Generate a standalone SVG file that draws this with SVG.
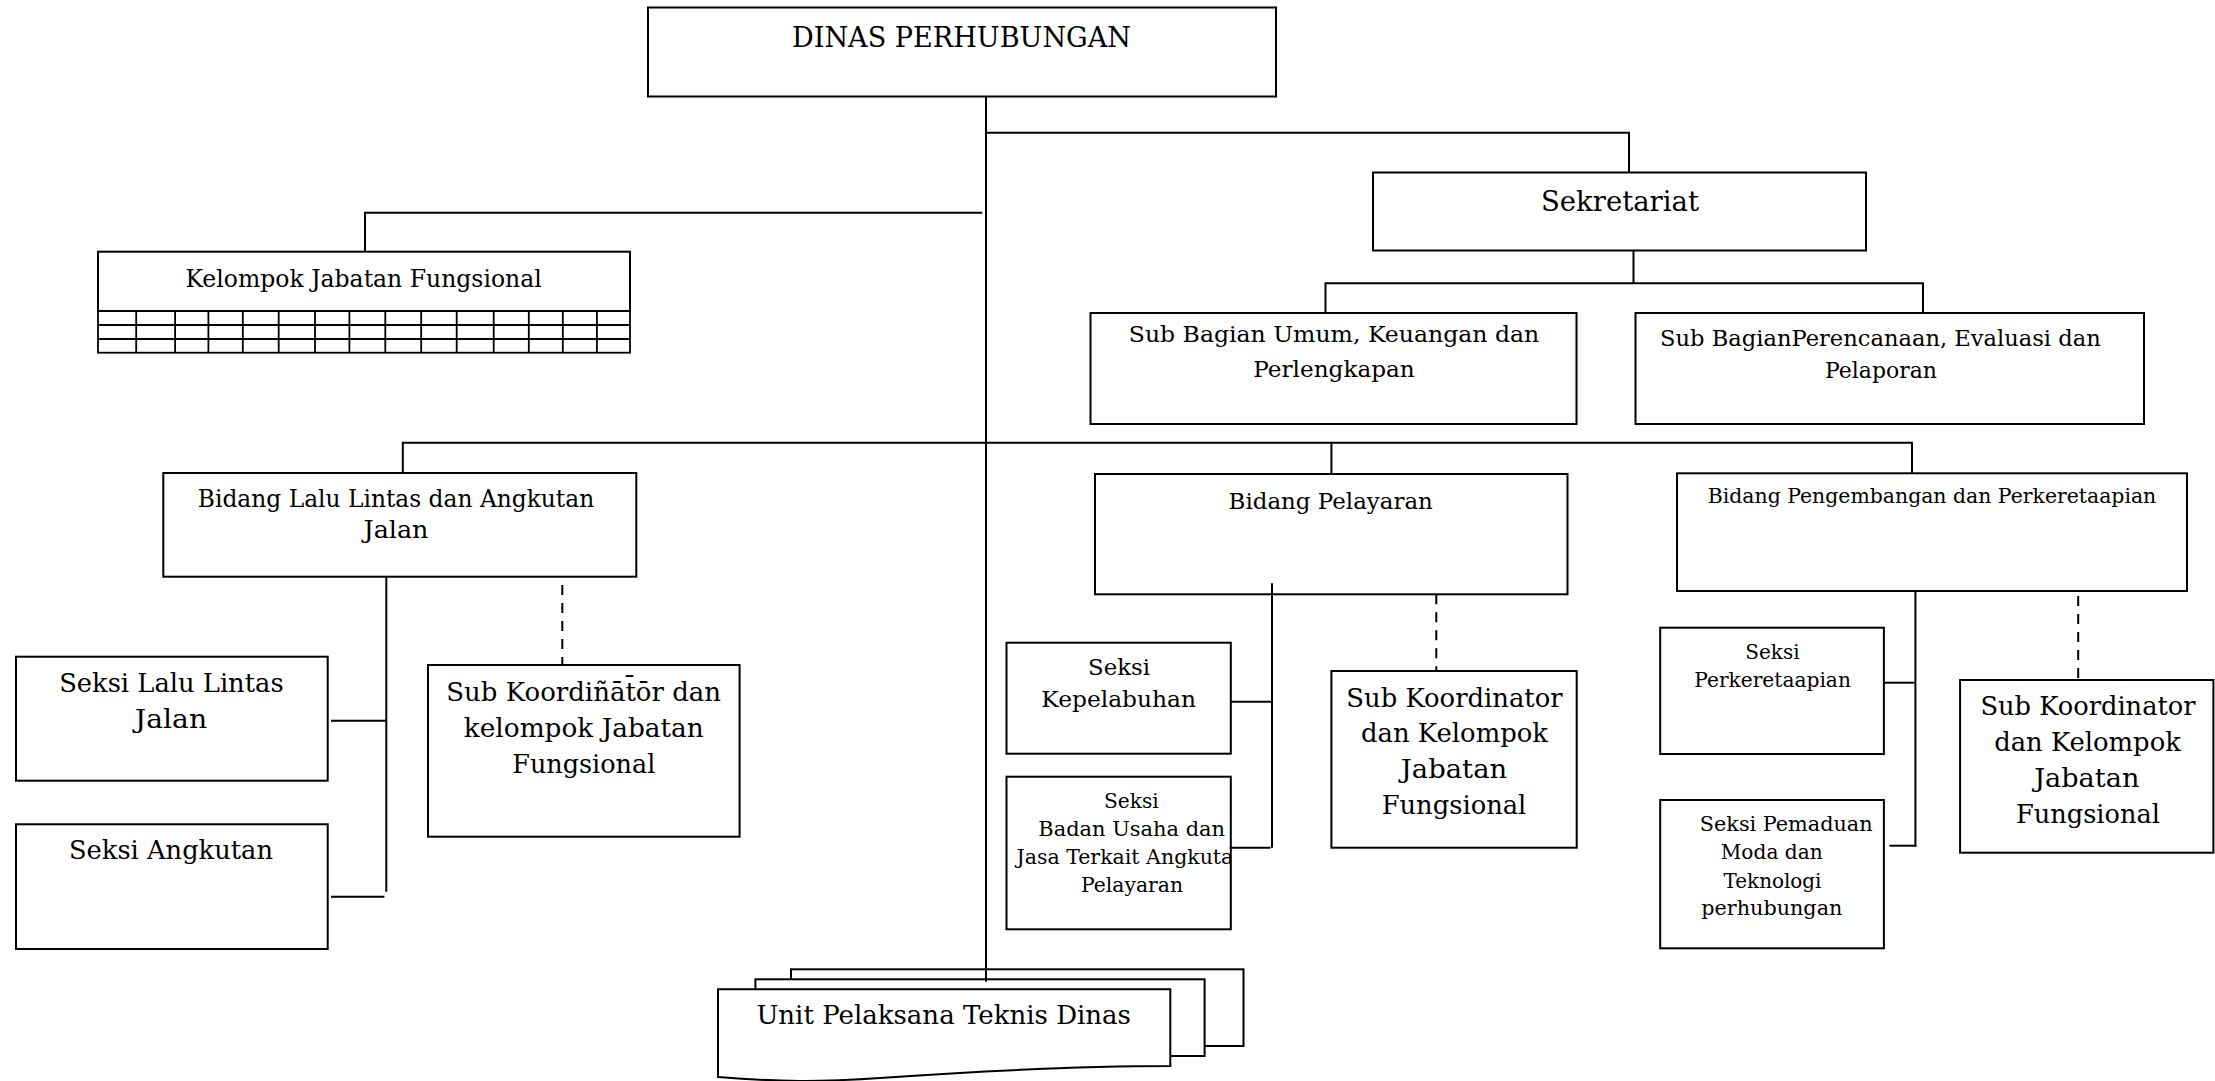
<svg xmlns="http://www.w3.org/2000/svg" width="2215" height="1081" viewBox="0 0 2215 1081">
  <style>
    .box { fill: #fff; stroke: #000; stroke-width: 2; }
    .ln { fill: none; stroke: #000; stroke-width: 2; }
    .dash { stroke-dasharray: 10 8; }
    .grid { fill: none; stroke: #000; stroke-width: 1.8; }
    text { font-family: "DejaVu Serif", "Liberation Serif", serif; fill: #000; text-anchor: middle; }
  </style>
  <defs>
    <clipPath id="clip-badan-usaha">
      <rect x="1007" y="777" width="223" height="152"/>
    </clipPath>
  </defs>

  <rect width="2215" height="1081" fill="#fff"/>

  <!-- Head of office -->
  <g id="dinas">
    <rect class="box" x="648" y="7.5" width="628" height="89"/>
    <text x="961.5" y="46.7" font-size="27.5" textLength="339" lengthAdjust="spacingAndGlyphs">DINAS PERHUBUNGAN</text>
  </g>

  <!-- Secretariat and its sub-sections -->
  <g id="sekretariat">
    <rect class="box" x="1373" y="172.5" width="493" height="78"/>
    <text x="1620" y="211" font-size="27.5" textLength="158" lengthAdjust="spacingAndGlyphs">Sekretariat</text>
  </g>
  <g id="subbag-umum">
    <rect class="box" x="1090.5" y="313" width="486" height="111"/>
    <text x="1334" y="341.7" font-size="23" textLength="410.5" lengthAdjust="spacingAndGlyphs">Sub Bagian Umum, Keuangan dan</text>
    <text x="1334" y="376.7" font-size="23" textLength="161.6" lengthAdjust="spacingAndGlyphs">Perlengkapan</text>
  </g>
  <g id="subbag-perencanaan">
    <rect class="box" x="1635.5" y="313" width="508.5" height="111"/>
    <text x="1880.4" y="346" font-size="22.2" textLength="440.7" lengthAdjust="spacingAndGlyphs">Sub BagianPerencanaan, Evaluasi dan</text>
    <text x="1881" y="378" font-size="22.2" textLength="112" lengthAdjust="spacingAndGlyphs">Pelaporan</text>
  </g>

  <!-- Functional group with its table -->
  <g id="kelompok-jabatan-fungsional">
    <rect class="box" x="98" y="251.7" width="532" height="59.3"/>
    <text x="363.6" y="287.3" font-size="23.4" textLength="356.4" lengthAdjust="spacingAndGlyphs">Kelompok Jabatan Fungsional</text>
    <rect class="grid" x="98" y="311" width="532" height="41.7"/>
    <path class="grid" d="M98,325 H630 M98,339 H630
      M136.2,311 V352.7 M175.1,311 V352.7 M208.4,311 V352.7 M242.8,311 V352.7
      M278.7,311 V352.7 M315,311 V352.7 M349.4,311 V352.7 M385.3,311 V352.7
      M421.2,311 V352.7 M456.7,311 V352.7 M493.7,311 V352.7 M528.8,311 V352.7
      M562.8,311 V352.7 M596.9,311 V352.7"/>
  </g>

  <!-- Division: road traffic and transport -->
  <g id="bidang-llaj">
    <rect class="box" x="163.3" y="473" width="473" height="103.7"/>
    <text x="396" y="506.7" font-size="23.3" textLength="396.4" lengthAdjust="spacingAndGlyphs">Bidang Lalu Lintas dan Angkutan</text>
    <text x="396" y="538.3" font-size="23.3" textLength="65" lengthAdjust="spacingAndGlyphs">Jalan</text>
  </g>
  <g id="seksi-lalu-lintas-jalan">
    <rect class="box" x="16" y="656.7" width="311.7" height="124"/>
    <text x="171.4" y="691.7" font-size="26" textLength="224.5" lengthAdjust="spacingAndGlyphs">Seksi Lalu Lintas</text>
    <text x="171" y="728.3" font-size="26" textLength="72.3" lengthAdjust="spacingAndGlyphs">Jalan</text>
  </g>
  <g id="seksi-angkutan">
    <rect class="box" x="16" y="824.3" width="311.7" height="124.7"/>
    <text x="171" y="859.3" font-size="26" textLength="204" lengthAdjust="spacingAndGlyphs">Seksi Angkutan</text>
  </g>
  <g id="subkoordinator-llaj">
    <rect class="box" x="428" y="665" width="311.6" height="171.7"/>
    <text x="583.7" y="700.7" font-size="26">Sub Koordiñāt̄ōr dan</text>
    <text x="583.8" y="736.7" font-size="26" textLength="240" lengthAdjust="spacingAndGlyphs">kelompok Jabatan</text>
    <text x="583.8" y="772.7" font-size="26" textLength="143" lengthAdjust="spacingAndGlyphs">Fungsional</text>
  </g>

  <!-- Division: shipping -->
  <g id="bidang-pelayaran">
    <rect class="box" x="1095" y="474" width="472.5" height="120.3"/>
    <text x="1330.7" y="509.3" font-size="22.6" textLength="204.3" lengthAdjust="spacingAndGlyphs">Bidang Pelayaran</text>
  </g>
  <g id="seksi-kepelabuhan">
    <rect class="box" x="1006.5" y="642.7" width="224.3" height="111"/>
    <text x="1119" y="675" font-size="23" textLength="62" lengthAdjust="spacingAndGlyphs">Seksi</text>
    <text x="1118.7" y="707.3" font-size="23" textLength="154.7" lengthAdjust="spacingAndGlyphs">Kepelabuhan</text>
  </g>
  <g id="seksi-badan-usaha">
    <rect class="box" x="1006.5" y="776.7" width="224.3" height="152.6"/>
    <g clip-path="url(#clip-badan-usaha)">
      <text x="1131.4" y="807.7" font-size="20.5" textLength="54.8" lengthAdjust="spacingAndGlyphs">Seksi</text>
      <text x="1131.7" y="835.7" font-size="20.5" textLength="186.7" lengthAdjust="spacingAndGlyphs">Badan Usaha dan</text>
      <text x="1131.5" y="864" font-size="20.5">Jasa Terkait Angkutan</text>
      <text x="1132" y="892.3" font-size="20.5" textLength="102" lengthAdjust="spacingAndGlyphs">Pelayaran</text>
    </g>
  </g>
  <g id="subkoordinator-pelayaran">
    <rect class="box" x="1331.4" y="671" width="245.3" height="176.7"/>
    <text x="1454.5" y="706.7" font-size="25.8" textLength="216.3" lengthAdjust="spacingAndGlyphs">Sub Koordinator</text>
    <text x="1454.5" y="741.7" font-size="25.8" textLength="187.1" lengthAdjust="spacingAndGlyphs">dan Kelompok</text>
    <text x="1454" y="778.3" font-size="25.8" textLength="106.4" lengthAdjust="spacingAndGlyphs">Jabatan</text>
    <text x="1454" y="814.3" font-size="25.8" textLength="144.7" lengthAdjust="spacingAndGlyphs">Fungsional</text>
  </g>

  <!-- Division: development and railways -->
  <g id="bidang-pengembangan">
    <rect class="box" x="1677" y="473.3" width="510" height="117.7"/>
    <text x="1932" y="503.3" font-size="20.2" textLength="448.5" lengthAdjust="spacingAndGlyphs">Bidang Pengembangan dan Perkeretaapian</text>
  </g>
  <g id="seksi-perkeretaapian">
    <rect class="box" x="1660.2" y="627.7" width="223.7" height="126.3"/>
    <text x="1772.4" y="659.3" font-size="20" textLength="54.3" lengthAdjust="spacingAndGlyphs">Seksi</text>
    <text x="1772.6" y="686.7" font-size="20" textLength="156.6" lengthAdjust="spacingAndGlyphs">Perkeretaapian</text>
  </g>
  <g id="seksi-pemaduan-moda">
    <rect class="box" x="1660.2" y="800" width="223.7" height="148.3"/>
    <text x="1786.2" y="830.7" font-size="20.5" textLength="172.7" lengthAdjust="spacingAndGlyphs">Seksi Pemaduan</text>
    <text x="1771.7" y="859" font-size="20.5" textLength="101.9" lengthAdjust="spacingAndGlyphs">Moda dan</text>
    <text x="1772.5" y="887.7" font-size="20.5" textLength="97.9" lengthAdjust="spacingAndGlyphs">Teknologi</text>
    <text x="1771.8" y="915" font-size="20.5" textLength="141.2" lengthAdjust="spacingAndGlyphs">perhubungan</text>
  </g>
  <g id="subkoordinator-pengembangan">
    <rect class="box" x="1960.1" y="680" width="253.3" height="172.7"/>
    <text x="2088" y="715" font-size="25.6" textLength="215.2" lengthAdjust="spacingAndGlyphs">Sub Koordinator</text>
    <text x="2087.5" y="750.7" font-size="25.6" textLength="186.7" lengthAdjust="spacingAndGlyphs">dan Kelompok</text>
    <text x="2086.8" y="786.7" font-size="25.6" textLength="105.2" lengthAdjust="spacingAndGlyphs">Jabatan</text>
    <text x="2088" y="822.7" font-size="25.6" textLength="144.1" lengthAdjust="spacingAndGlyphs">Fungsional</text>
  </g>

  <!-- Technical units: stacked sheets -->
  <g id="upt">
    <rect class="box" x="791" y="969.3" width="452.5" height="76.7"/>
    <rect class="box" x="755.4" y="979.3" width="449.2" height="76.7"/>
    <path class="box" d="M718,989.3 H1170.3 V1066 C1080,1066 980,1071 880,1078 C820,1082 780,1082 718,1077 Z"/>
    <text x="943.7" y="1024" font-size="25.7" textLength="374.6" lengthAdjust="spacingAndGlyphs">Unit Pelaksana Teknis Dinas</text>
  </g>

  <!-- Connectors -->
  <g id="connectors">
    <!-- trunk -->
    <path class="ln" d="M986,96.7 V981.7"/>
    <!-- to Sekretariat -->
    <path class="ln" d="M986,132.7 H1629 V172.7"/>
    <!-- to Kelompok Jabatan Fungsional -->
    <path class="ln" d="M982.3,212.7 H365 V251.7"/>
    <!-- Sekretariat to sub-sections -->
    <path class="ln" d="M1633.5,250.7 V284"/>
    <path class="ln" d="M1325.5,313 V283.3 H1923 V313"/>
    <!-- division bar -->
    <path class="ln" d="M402.8,473 V442.7 H1912 V473"/>
    <path class="ln" d="M1331.4,442.7 V474"/>
    <!-- Bidang LLAJ -->
    <path class="ln" d="M386.3,576.7 V891.7"/>
    <path class="ln" d="M331,720.7 H386.3"/>
    <path class="ln" d="M331,896.7 H384.4"/>
    <path class="ln dash" d="M562.3,585 V665"/>
    <!-- Bidang Pelayaran -->
    <path class="ln" d="M1272,583.3 V847.7"/>
    <path class="ln" d="M1230.8,701.7 H1272"/>
    <path class="ln" d="M1229.6,847.7 H1270.6"/>
    <path class="ln dash" d="M1436.3,594.3 V671"/>
    <!-- Bidang Pengembangan -->
    <path class="ln" d="M1915.4,591 V846.7"/>
    <path class="ln" d="M1884.6,682.7 H1914.4"/>
    <path class="ln" d="M1889.4,845.7 H1916.4"/>
    <path class="ln dash" d="M2078.2,596 V680"/>
  </g>
</svg>
